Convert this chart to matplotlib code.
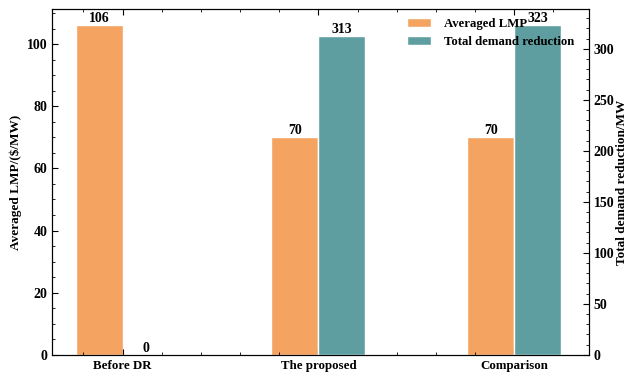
import numpy as np
import matplotlib.pyplot as plt
from matplotlib.ticker import MultipleLocator

plt.rcParams['font.family'] = 'Liberation Serif'
plt.rcParams['font.weight'] = 'bold'
plt.rcParams['axes.labelweight'] = 'bold'

escenarios = ['Before DR', 'The proposed', 'Comparison']
lmp_promedio = [106, 70, 70]
reduccion_demanda = [0, 313, 323]

x = np.arange(len(escenarios))
ancho = 0.24

fig, ax1 = plt.subplots(figsize=(6.27, 3.72), dpi=100)
ax2 = ax1.twinx()

b1 = ax1.bar(x - ancho / 2, lmp_promedio, ancho, color='#F4A460',
             edgecolor='white', linewidth=1, label='Averaged LMP')
b2 = ax2.bar(x + ancho / 2, reduccion_demanda, ancho, color='#5F9EA0',
             edgecolor='white', linewidth=1, label='Total demand reduction')

for barra, v in zip(b1, lmp_promedio):
    ax1.text(barra.get_x() + barra.get_width() / 2, v, f'{v}',
             ha='center', va='bottom', fontsize=10, fontweight='bold')
for barra, v in zip(b2, reduccion_demanda):
    ax2.text(barra.get_x() + barra.get_width() / 2, v, f'{v}',
             ha='center', va='bottom', fontsize=10, fontweight='bold')

ax1.set_xlim(-0.36, 2.38)
ax1.set_ylim(0, max(lmp_promedio) * 1.05)
ax2.set_ylim(0, max(reduccion_demanda) * 1.05)

ax1.set_xticks(x)
ax1.set_xticklabels(escenarios, fontsize=9.3, fontweight='bold')
ax1.xaxis.set_minor_locator(MultipleLocator(0.2))
ax1.yaxis.set_major_locator(MultipleLocator(20))
ax1.yaxis.set_minor_locator(MultipleLocator(5))
ax2.yaxis.set_major_locator(MultipleLocator(50))
ax2.yaxis.set_minor_locator(MultipleLocator(10))

ax1.tick_params(axis='both', which='both', direction='in', top=True)
ax1.tick_params(axis='y', labelsize=10)
ax1.tick_params(which='major', length=4)
ax1.tick_params(which='minor', length=2)
ax2.tick_params(axis='y', which='both', direction='in', labelsize=10)
ax2.tick_params(which='major', length=4)
ax2.tick_params(which='minor', length=2)
for lbl in ax1.get_yticklabels() + ax2.get_yticklabels():
    lbl.set_fontweight('bold')

ax1.set_ylabel('Averaged LMP/($/MW)', fontsize=9.5, fontweight='bold', labelpad=3)
ax2.set_ylabel('Total demand reduction/MW', fontsize=9.5, fontweight='bold', labelpad=1)

h1, l1 = ax1.get_legend_handles_labels()
h2, l2 = ax2.get_legend_handles_labels()
ax2.legend(h1 + h2, l1 + l2, loc='upper right', bbox_to_anchor=(0.99, 1.0),
           frameon=False, fontsize=9.2, handlelength=1.9, handletextpad=1.0,
           borderaxespad=0.3)

plt.subplots_adjust(left=0.083, right=0.939, top=0.976, bottom=0.046)
plt.savefig('out.png', dpi=100)
